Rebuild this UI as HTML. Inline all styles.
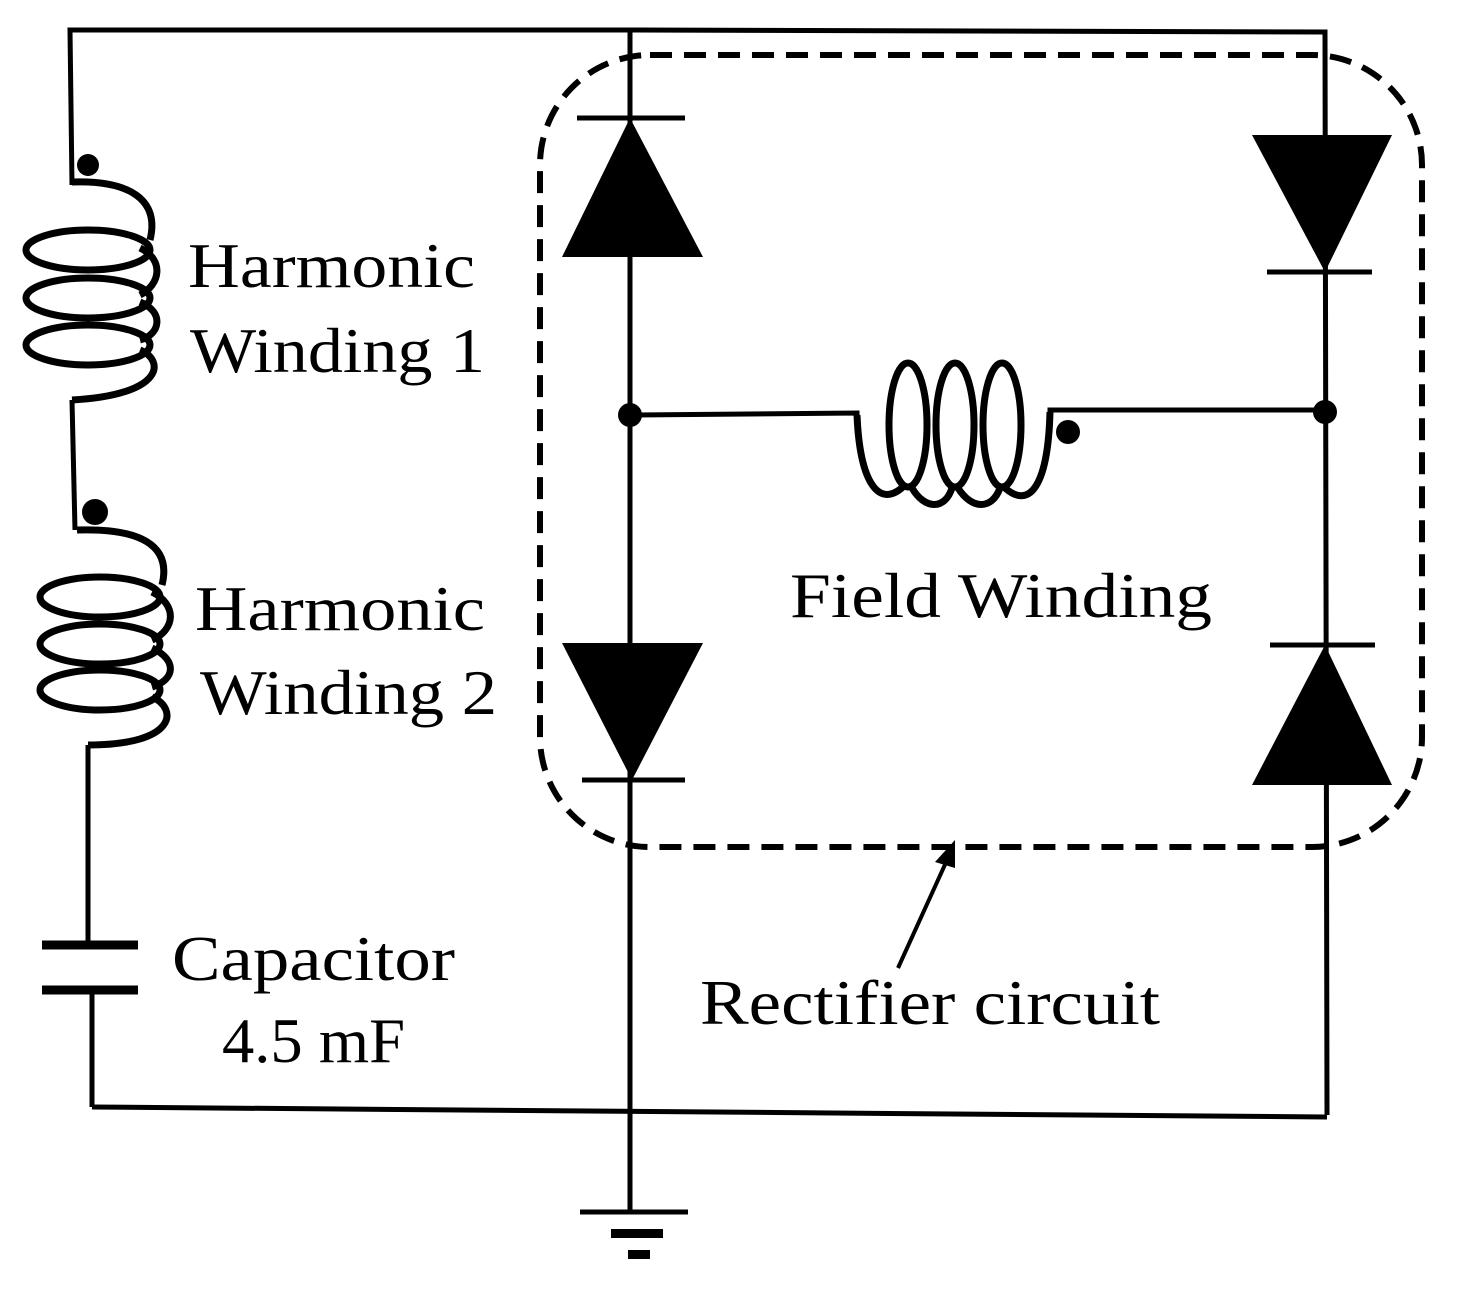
<!DOCTYPE html>
<html><head><style>body{margin:0;background:#fff}svg{display:block}text{font-family:"Liberation Serif",serif;font-size:64px;fill:#000}</style></head>
<body>
<svg width="1462" height="1305" viewBox="0 0 1462 1305" xmlns="http://www.w3.org/2000/svg">
<g stroke="#000" stroke-width="5" fill="none">
<polyline points="72,185 70,30 630,30 1325,32 1327,1115"/>
<line x1="72" y1="400" x2="75" y2="530"/>
<line x1="88" y1="745" x2="88" y2="945"/>
<line x1="92" y1="990" x2="92" y2="1107"/>
<polyline points="92,1107 1327,1117"/>
<line x1="630" y1="30" x2="630" y2="1212"/>
<g stroke-width="7">
<ellipse cx="88" cy="250" rx="62" ry="20"/>
<ellipse cx="88" cy="298" rx="62" ry="20"/>
<ellipse cx="88" cy="345" rx="62" ry="20"/>
<path d="M72,182 C130,180 160,200 150,240 M140,248 C165,260 160,285 140,295 M140,302 C165,312 160,335 140,340 M140,350 C165,360 165,395 72,400"/>
<ellipse cx="100" cy="597" rx="60" ry="20"/>
<ellipse cx="100" cy="644" rx="60" ry="20"/>
<ellipse cx="100" cy="690" rx="60" ry="20"/>
<path d="M77,530 C140,528 172,545 162,585 M152,592 C178,605 175,630 152,640 M152,648 C178,660 175,680 152,687 M152,697 C178,708 178,745 88,745"/>
<ellipse cx="908" cy="425" rx="19" ry="62"/>
<ellipse cx="955" cy="425" rx="19" ry="62"/>
<ellipse cx="1002" cy="425" rx="19" ry="62"/>
<path d="M857,415 C860,485 880,510 905,485 M912,488 C925,510 945,510 952,488 M958,488 C972,510 992,510 1000,488 M1005,488 C1030,510 1048,485 1050,412"/>
</g>
<polyline points="630,415 857,413 857,418"/>
<polyline points="1050,414 1050,410 1325,410"/>
<line x1="42" y1="945" x2="138" y2="945" stroke-width="9"/>
<line x1="42" y1="990" x2="138" y2="990" stroke-width="9"/>
<line x1="577" y1="118" x2="685" y2="118"/>
<line x1="582" y1="780" x2="685" y2="780"/>
<line x1="1267" y1="272" x2="1372" y2="272"/>
<line x1="1270" y1="645" x2="1375" y2="645"/>
<line x1="580" y1="1212" x2="688" y2="1212"/>
<rect x="540" y="55" width="882" height="792" rx="110" stroke-width="6" stroke-dasharray="22 12"/>
<line x1="898" y1="968" x2="948" y2="858" stroke-width="4"/>
</g>
<g fill="#000">
<polygon points="630,118 562,257 703,257"/>
<polygon points="562,643 703,643 632,780"/>
<polygon points="1252,135 1392,135 1325,272"/>
<polygon points="1325,645 1252,785 1392,785"/>
<polygon points="955,840 935,862 955,868"/>
<circle cx="88" cy="165" r="11"/>
<circle cx="95" cy="512" r="13"/>
<circle cx="630" cy="415" r="12"/>
<circle cx="1325" cy="412" r="12"/>
<circle cx="1068" cy="432" r="12"/>
<rect x="611" y="1229" width="52" height="9"/>
<rect x="628" y="1250" width="22" height="9"/>
</g>
<text x="188" y="287" textLength="287" lengthAdjust="spacingAndGlyphs">Harmonic</text>
<text x="190" y="372" textLength="295" lengthAdjust="spacingAndGlyphs">Winding 1</text>
<text x="195" y="630" textLength="290" lengthAdjust="spacingAndGlyphs">Harmonic</text>
<text x="200" y="714" textLength="297" lengthAdjust="spacingAndGlyphs">Winding 2</text>
<text x="790" y="617" textLength="422" lengthAdjust="spacingAndGlyphs">Field Winding</text>
<text x="172" y="980" textLength="283" lengthAdjust="spacingAndGlyphs">Capacitor</text>
<text x="222" y="1062" textLength="183" lengthAdjust="spacingAndGlyphs">4.5 mF</text>
<text x="700" y="1024" textLength="460" lengthAdjust="spacingAndGlyphs">Rectifier circuit</text>
</svg>
</body></html>
